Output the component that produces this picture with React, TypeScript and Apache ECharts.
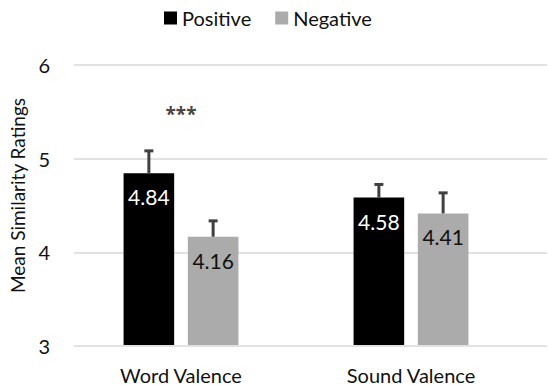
import React, { useEffect, useRef } from "react";
import * as echarts from "echarts";

const categories = ["Word Valence", "Sound Valence"];
const positiveMeans = [4.84, 4.58];
const negativeMeans = [4.16, 4.41];
const positiveUpper = [5.08, 4.72];
const negativeUpper = [4.33, 4.63];
const yTicks = [3, 4, 5, 6];
const significance = [{ category: "Word Valence", value: 5.47, text: "***" }];

const FONT = "Lato, 'Open Sans', sans-serif";
const BAR_W = 0.22;
const BAR_GAP = 0.27;
const TEXT = "#111111";

export default function App() {
  const ref = useRef<HTMLDivElement>(null);
  useEffect(() => {
    if (!ref.current) return;
    const chart = echarts.init(ref.current, null, { renderer: "svg" });
    const errData: any[] = [];
    categories.forEach((c, i) => {
      errData.push([i, positiveMeans[i], positiveUpper[i], -1]);
      errData.push([i, negativeMeans[i], negativeUpper[i], 1]);
    });
    chart.setOption({
      animation: false,
      textStyle: { fontFamily: FONT },
      legend: {
        top: 8,
        left: 164,
        padding: 0,
        icon: "rect",
        itemWidth: 13,
        itemHeight: 13,
        itemGap: 24,
        textStyle: { fontSize: 20, color: TEXT, fontFamily: FONT },
        data: ["Positive", "Negative"],
      },
      grid: [
        { left: 66, right: 1, top: 65, bottom: 39 },
        { left: 66, right: 22, top: 65, bottom: 39 },
      ],
      xAxis: [
        { type: "category", gridIndex: 0, data: categories, show: false },
        {
          type: "category",
          gridIndex: 1,
          data: categories,
          axisLine: { show: false },
          axisTick: { show: false },
          axisLabel: { fontSize: 20, color: TEXT, margin: 20, fontFamily: FONT },
        },
      ],
      yAxis: [
        {
          type: "value",
          gridIndex: 0,
          min: yTicks[0],
          max: yTicks[yTicks.length - 1],
          interval: 1,
          name: "Mean Similarity Ratings",
          nameLocation: "middle",
          nameGap: 47,
          nameTextStyle: { fontSize: 19, color: TEXT, fontFamily: FONT, padding: [0, 0, 0, 20] },
          axisLine: { show: false },
          axisTick: { show: false },
          axisLabel: { fontSize: 20, color: TEXT, margin: 24, fontFamily: FONT },
          splitLine: { lineStyle: { color: "#d9d9d9", width: 1.5 } },
        },
        {
          type: "value",
          gridIndex: 1,
          min: yTicks[0],
          max: yTicks[yTicks.length - 1],
          interval: 1,
          show: false,
          splitLine: { show: false },
        },
      ],
      series: [
        {
          name: "Positive",
          type: "bar",
          xAxisIndex: 1,
          yAxisIndex: 1,
          data: positiveMeans,
          barWidth: BAR_W * 100 + "%",
          barGap: BAR_GAP * 100 + "%",
          itemStyle: { color: "#000000" },
          label: {
            show: true,
            position: "insideTop",
            distance: 13,
            color: "#ffffff",
            fontSize: 21,
            fontFamily: FONT,
            formatter: (p: any) => p.value.toFixed(2),
          },
        },
        {
          name: "Negative",
          type: "bar",
          xAxisIndex: 1,
          yAxisIndex: 1,
          data: negativeMeans,
          barWidth: BAR_W * 100 + "%",
          barGap: BAR_GAP * 100 + "%",
          itemStyle: { color: "#ababab" },
          label: {
            show: true,
            position: "insideTop",
            distance: 13,
            color: TEXT,
            fontSize: 21,
            fontFamily: FONT,
            formatter: (p: any) => p.value.toFixed(2),
          },
        },
        {
          type: "custom",
          xAxisIndex: 1,
          yAxisIndex: 1,
          data: errData,
          z: 10,
          renderItem: (params: any, api: any) => {
            const idx = api.value(0);
            const mean = api.value(1);
            const up = api.value(2);
            const side = api.value(3);
            const band = api.size([1, 0])[0];
            const bw = band * BAR_W;
            const gap = bw * BAR_GAP;
            const off = ((bw + gap) / 2) * side;
            const base = api.coord([idx, mean]);
            const top = api.coord([idx, up]);
            const x = base[0] + off;
            const style = { stroke: "#404040", lineWidth: 3 };
            return {
              type: "group",
              children: [
                { type: "line", shape: { x1: x, y1: base[1], x2: x, y2: top[1] }, style },
                { type: "line", shape: { x1: x - 4.5, y1: top[1], x2: x + 4.5, y2: top[1] }, style },
              ],
            };
          },
        },
        {
          type: "scatter",
          xAxisIndex: 1,
          yAxisIndex: 1,
          symbolSize: 1,
          itemStyle: { color: "rgba(0,0,0,0)" },
          data: significance.map((s) => ({ value: [s.category, s.value], text: s.text })),
          label: {
            show: true,
            position: "inside",
            color: TEXT,
            fontSize: 19,
            fontWeight: "bold",
            fontFamily: "'Open Sans', sans-serif",
            formatter: (p: any) => p.data.text,
          },
        },
      ],
    });
    return () => chart.dispose();
  }, []);
  return <div ref={ref} style={{ width: 548, height: 385, position: "absolute", left: 0, top: 0 }} />;
}
